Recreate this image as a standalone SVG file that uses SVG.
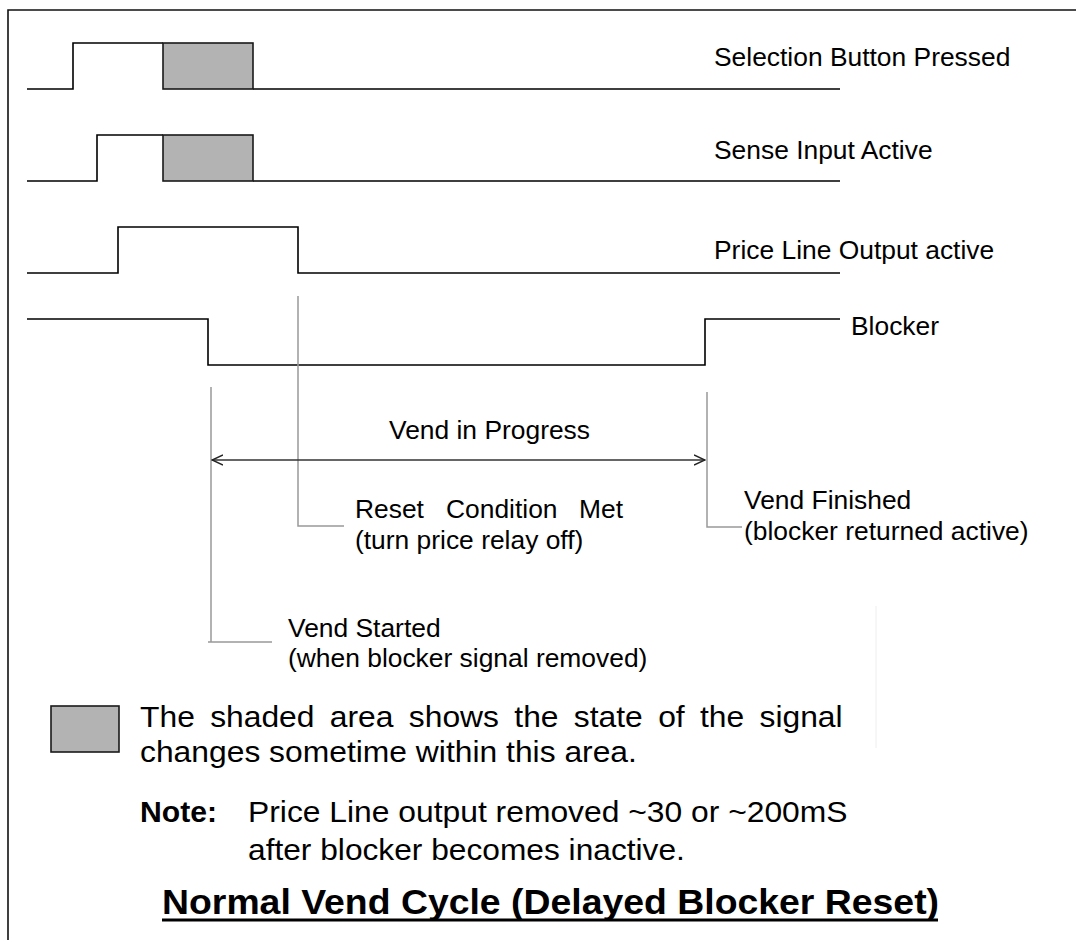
<svg xmlns="http://www.w3.org/2000/svg" width="1076" height="940" viewBox="0 0 1076 940">
<style>
.wave{fill:none;stroke:#000;stroke-width:1.6}
.shade{fill:#b3b3b3;stroke:#1a1a1a;stroke-width:1.6}
.guide{fill:none;stroke:#999;stroke-width:1.5}
.lbl{font-family:"Liberation Sans",Arial,sans-serif;font-size:26.4px;fill:#000}
.note{font-family:"Liberation Sans",Arial,sans-serif;font-size:29.5px;fill:#000}
.bold{font-weight:bold}
</style>
<defs>
<marker id="chev" viewBox="0 0 12 12" refX="11" refY="6" markerWidth="12" markerHeight="12" markerUnits="userSpaceOnUse" orient="auto-start-reverse">
<path d="M0,1 L11,6 L0,11" fill="none" stroke="#222" stroke-width="1.4"/>
</marker>
</defs>
<rect width="1076" height="940" fill="#fff"/>
<g id="frame"><path d="M8,940 V10 H1076" fill="none" stroke="#111" stroke-width="1.6"/></g>

<g id="selection-button">
<path class="wave" d="M27,89 H73 V43 H163 M253,89 H840"/>
<rect class="shade" x="163" y="43" width="90" height="46"/>
<text class="lbl" x="714" y="66">Selection Button Pressed</text>
</g>
<g id="sense-input">
<path class="wave" d="M27,181 H97 V135 H163 M253,181 H840"/>
<rect class="shade" x="163" y="135" width="90" height="46"/>
<text class="lbl" x="714" y="159">Sense Input Active</text>
</g>
<g id="price-line">
<path class="wave" d="M27,273 H118 V227 H298 V273 H840"/>
<text class="lbl" x="714" y="259">Price Line Output active</text>
</g>
<g id="blocker">
<path class="wave" d="M27,319 H208 V365 H705 V319 H840"/>
<text class="lbl" x="851" y="335">Blocker</text>
</g>

<g id="connectors">
<path class="guide" d="M211,387 V642 M208,642 H272"/>
<path class="guide" d="M298,296 V526 H344"/>
<path class="guide" d="M707,392 V527 H742"/>
<line x1="212" y1="460" x2="705" y2="460" stroke="#333" stroke-width="1.5" marker-start="url(#chev)" marker-end="url(#chev)"/>
<line x1="876" y1="606" x2="876" y2="748" stroke="#eeeeee" stroke-width="1"/>
</g>

<g id="vend-in-progress"><text class="lbl" x="389" y="439">Vend in Progress</text></g>
<g id="reset-condition">
<text class="lbl" y="518"><tspan x="355">Reset</tspan><tspan x="446">Condition</tspan><tspan x="579">Met</tspan></text>
<text class="lbl" x="355" y="549">(turn price relay off)</text>
</g>
<g id="vend-finished">
<text class="lbl" x="744" y="509">Vend Finished</text>
<text class="lbl" x="744" y="540">(blocker returned active)</text>
</g>
<g id="vend-started">
<text class="lbl" x="288" y="637">Vend Started</text>
<text class="lbl" x="288" y="667">(when blocker signal removed)</text>
</g>

<g id="legend">
<rect class="shade" x="51" y="706" width="68" height="46" stroke-width="1.4"/>
<text class="note" transform="translate(140,727) scale(1.079,1)" word-spacing="6">The shaded area shows the state of the signal</text>
<text class="note" transform="translate(140,762) scale(1.079,1)">changes sometime within this area.</text>
</g>
<g id="note">
<text class="note bold" transform="translate(140,822) scale(1.021,1)">Note:</text>
<text class="note" transform="translate(248,822) scale(1.079,1)">Price Line output removed ~30 or ~200mS</text>
<text class="note" transform="translate(248,860) scale(1.075,1)">after blocker becomes inactive.</text>
</g>
<g id="title">
<text class="note bold" transform="translate(162,914) scale(1.039,1)" style="font-size:36px">Normal Vend Cycle (Delayed Blocker Reset)</text>
<line x1="162" y1="920" x2="938" y2="920" stroke="#000" stroke-width="3"/>
</g>
</svg>
